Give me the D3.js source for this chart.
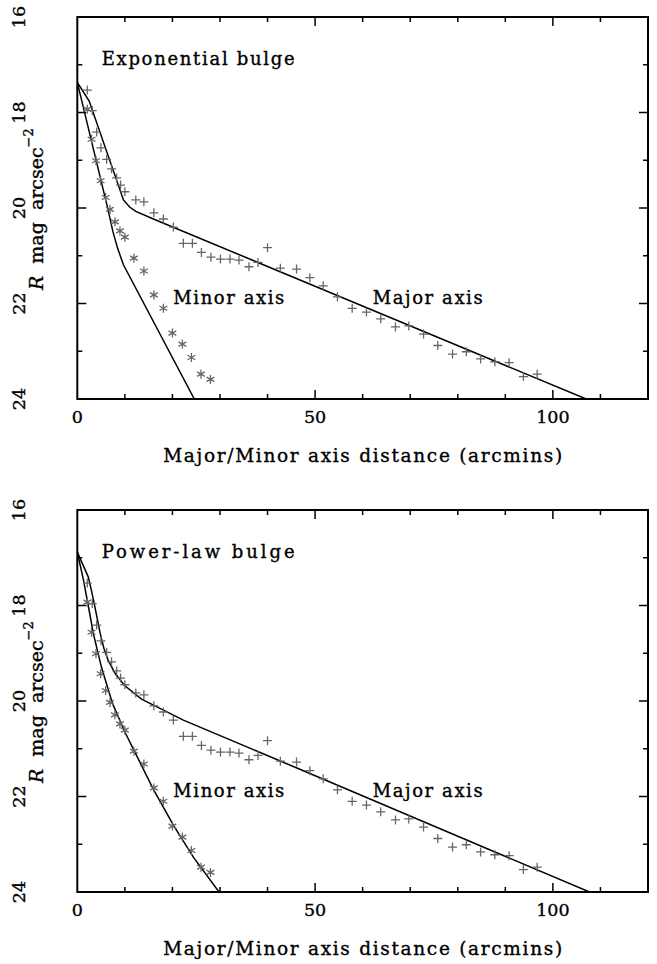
<!DOCTYPE html>
<html lang="en">
<head>
<meta charset="UTF-8">
<title>Bulge profiles</title>
<script src="https://d3js.org/d3.v7.min.js"></script>
<style>
    body { margin: 0; background: #fff; }
    svg { display: block; }
    text { font-family: "DejaVu Serif", "Liberation Serif", serif; fill: #000; stroke: #000; stroke-width: 0.35px; }
</style>
</head>
<body>
<svg id="chart" width="657" height="964"></svg>
<script>
    // observed profile points (same for both panels)
    const majorDist = [2.1, 3.15, 4.07, 4.98, 6.17, 7.2, 8.27, 9.1, 10.0, 12.3, 14.0, 16.1, 18.1, 20.2,
        22.3, 24.2, 26.1, 28.1, 30.1, 32.1, 34.0, 36.1, 38.0, 40.0, 42.7, 46.1, 48.9, 51.7, 54.7,
        57.8, 60.8, 63.8, 66.9, 69.7, 72.8, 75.8, 78.9, 81.8, 84.8, 87.8, 90.8, 93.8, 96.7];
    const majorMag = [17.53, 17.96, 18.41, 18.74, 18.98, 19.18, 19.37, 19.52, 19.66, 19.83, 19.87, 20.10, 20.23, 20.40,
        20.74, 20.74, 20.93, 21.03, 21.07, 21.07, 21.09, 21.23, 21.14, 20.83, 21.26, 21.28, 21.46, 21.63, 21.86,
        22.10, 22.18, 22.32, 22.49, 22.47, 22.64, 22.88, 23.06, 23.01, 23.16, 23.22, 23.24, 23.53, 23.48];

    const minorDist = [2.1, 3.0, 3.93, 4.9, 5.96, 6.87, 7.92, 8.97, 10.0, 11.9, 14.0, 16.1, 18.1, 20.0, 22.1, 24.0, 26.0, 28.0];
    const minorMag = [17.93, 18.56, 19.01, 19.43, 19.78, 20.03, 20.29, 20.48, 20.61, 21.05, 21.32, 21.82, 22.10, 22.62, 22.85, 23.13, 23.48, 23.59];

    // model curves
    const expMajorDist = [0, 2.5, 9.7, 11.0, 12.3, 16.0, 107.0, 110.0];
    const expMajorMag = [17.37, 17.76, 19.83, 19.98, 20.07, 20.23, 24.0, 24.12];
    const expMinorDist = [0, 6.5, 7.5, 8.5, 9.7, 24.6, 26.0];
    const expMinorMag = [17.37, 20.05, 20.5, 20.85, 21.19, 24.0, 24.26];

    const powMajorDist = [0, 2.3, 3.0, 3.7, 4.8, 5.6, 6.5, 8.0, 10.0, 13.5, 17.7, 22.3, 46.8, 107.7, 110.0];
    const powMajorMag = [16.88, 17.40, 17.7, 18.03, 18.58, 18.9, 19.15, 19.43, 19.68, 19.96, 20.17, 20.40, 21.43, 24.0, 24.1];
    const powMinorDist = [0, 1.3, 2.3, 3.4, 5.1, 7.4, 10.0, 12.5, 16.0, 20.2, 24.4, 29.8, 31.0];
    const powMinorMag = [16.88, 17.47, 18.0, 18.6, 19.3, 20.05, 20.65, 21.15, 21.85, 22.6, 23.27, 24.0, 24.16];

    const xTicks = [0, 50, 100];
    const yTicks = [16, 18, 20, 22, 24];
    const panelTitles = ["Exponential bulge", "Power-law bulge"];

    const svg = d3.select("#chart");
    const x = d3.scaleLinear().domain([0, 120]).range([77.3, 648]);
    const zip = (a, b) => a.map((v, i) => [v, b[i]]);

    function drawPanel(top, title, majorModel, minorModel, id) {
        const y = d3.scaleLinear().domain([16, 24]).range([top, top + 382]);
        const g = svg.append("g");

        g.append("clipPath").attr("id", "clip" + id)
            .append("rect")
            .attr("x", x(0)).attr("y", y(16))
            .attr("width", x(120) - x(0)).attr("height", y(24) - y(16));

        // ticks on all four sides, pointing inward
        const tk = v => (v % 50 === 0 ? 9 : 5);
        const tky = v => (v % 2 === 0 ? 9 : 5);
        const ax = g.append("g").attr("stroke", "#000").attr("stroke-width", 1.5);
        d3.range(10, 120, 10).forEach(v => {
            ax.append("line").attr("x1", x(v)).attr("x2", x(v)).attr("y1", y(24)).attr("y2", y(24) - tk(v));
            ax.append("line").attr("x1", x(v)).attr("x2", x(v)).attr("y1", y(16)).attr("y2", y(16) + tk(v));
        });
        d3.range(17, 24, 1).forEach(v => {
            ax.append("line").attr("x1", x(0)).attr("x2", x(0) + tky(v)).attr("y1", y(v)).attr("y2", y(v));
            ax.append("line").attr("x1", x(120)).attr("x2", x(120) - tky(v)).attr("y1", y(v)).attr("y2", y(v));
        });
        g.append("rect")
            .attr("x", x(0)).attr("y", y(16))
            .attr("width", x(120) - x(0)).attr("height", y(24) - y(16))
            .attr("fill", "none").attr("stroke", "#000").attr("stroke-width", 2);

        // tick labels
        g.selectAll(".xt").data(xTicks).enter().append("text")
            .attr("x", d => x(d)).attr("y", y(24) + 24)
            .attr("text-anchor", "middle").attr("font-size", 17.5)
            .text(d => d);
        g.selectAll(".yt").data(yTicks).enter().append("text")
            .attr("transform", d => `translate(25,${y(d)}) rotate(-90)`)
            .attr("text-anchor", "middle").attr("font-size", 17.5)
            .text(d => d);

        // axis titles
        g.append("text")
            .attr("x", (x(0) + x(120)) / 2).attr("y", y(24) + 63)
            .attr("text-anchor", "middle").attr("font-size", 18.5)
            .attr("textLength", 399).attr("lengthAdjust", "spacing")
            .text("Major/Minor axis distance (arcmins)");
        const yl = g.append("text")
            .attr("transform", `translate(43,${top + 273}) rotate(-90)`)
            .attr("text-anchor", "start").attr("font-size", 19)
            .style("word-spacing", "6px");
        yl.append("tspan").attr("font-style", "italic").text("R");
        yl.append("tspan").text(" mag arcsec");
        yl.append("tspan").attr("dy", -10).attr("font-size", 13).text("\u22122");

        // labels inside plot
        g.append("text").attr("x", 101.7).attr("y", top + 48).attr("font-size", 18)
            .attr("textLength", 193).attr("lengthAdjust", "spacing").text(title);
        g.append("text").attr("x", 173.3).attr("y", top + 286.5).attr("font-size", 18)
            .attr("textLength", 111).attr("lengthAdjust", "spacing").text("Minor axis");
        g.append("text").attr("x", 372.7).attr("y", top + 286.5).attr("font-size", 18)
            .attr("textLength", 110).attr("lengthAdjust", "spacing").text("Major axis");

        const plot = g.append("g").attr("clip-path", `url(#clip${id})`);
        const line = d3.line().x(d => x(d[0])).y(d => y(d[1]));
        [majorModel, minorModel].forEach(m => {
            plot.append("path").datum(m).attr("d", line)
                .attr("fill", "none").attr("stroke", "#000").attr("stroke-width", 1.5);
        });

        // plus markers for major axis
        const s = 4.5;
        const mk = plot.append("g").attr("stroke", "#666").attr("stroke-width", 1.3).attr("fill", "none");
        zip(majorDist, majorMag).forEach(d => {
            mk.append("path").attr("d",
                `M${x(d[0]) - s},${y(d[1])}H${x(d[0]) + s}M${x(d[0])},${y(d[1]) - s}V${y(d[1]) + s}`);
        });
        // asterisks for minor axis
        zip(minorDist, minorMag).forEach(d => {
            const cx = x(d[0]), cy = y(d[1]);
            let p = "";
            [90, 30, -30].forEach(a => {
                const r = a * Math.PI / 180;
                const dx = s * Math.cos(r), dy = s * Math.sin(r);
                p += `M${cx - dx},${cy - dy}L${cx + dx},${cy + dy}`;
            });
            mk.append("path").attr("d", p);
        });
    }

    drawPanel(17, panelTitles[0], zip(expMajorDist, expMajorMag), zip(expMinorDist, expMinorMag), 0);
    drawPanel(510, panelTitles[1], zip(powMajorDist, powMajorMag), zip(powMinorDist, powMinorMag), 1);
</script>
</body>
</html>
